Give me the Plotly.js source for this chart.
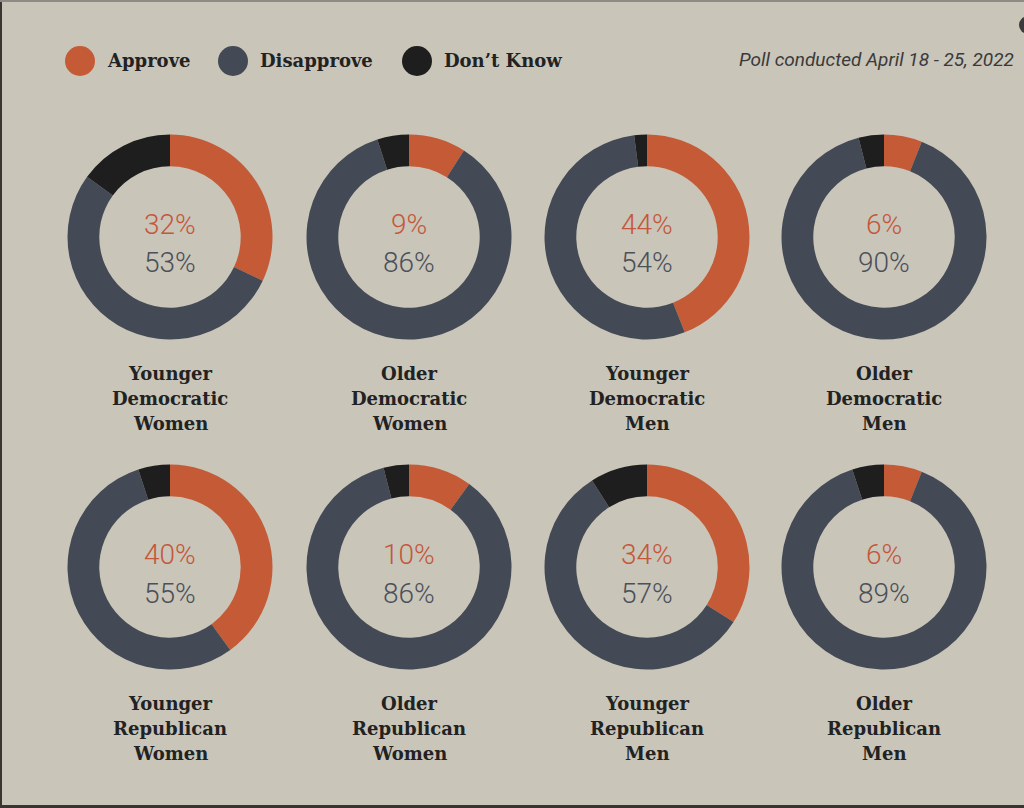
<!DOCTYPE html>
<html>
<head>
<meta charset="utf-8">
<script src="https://cdn.plot.ly/plotly-3.0.1.min.js"></script>
<style>html,body{margin:0;padding:0;background:#c9c5b9;}#chart{width:1024px;height:808px;}</style>
</head>
<body>
<div id="chart"></div>
<script>
// ---- data ----
const groups = [
  "Younger<br>Democratic<br>Women", "Older<br>Democratic<br>Women",
  "Younger<br>Democratic<br>Men", "Older<br>Democratic<br>Men",
  "Younger<br>Republican<br>Women", "Older<br>Republican<br>Women",
  "Younger<br>Republican<br>Men", "Older<br>Republican<br>Men"
];
const responses = ["Approve", "Disapprove", "Don’t Know"];
const approve    = [32, 9, 44, 6, 40, 10, 34, 6];
const disapprove = [53, 86, 54, 90, 55, 86, 57, 89];
const dontKnow   = [15, 5, 2, 4, 5, 4, 9, 5];
const subtitle = "Poll conducted April 18 - 25, 2022";

// ---- styling / layout ----
const W = 1024, H = 808;
const BG = "#c9c5b9";
const COLORS = ["#c45a36", "#434a55", "#1e1e1e"];
const TXT_APPROVE = "#c4573a", TXT_DIS = "#4b5059";
const colX = [170, 409, 647, 884];
const rowY = [237, 567];
const R = 102.5;
const px = x => x / W;
const py = y => 1 - y / H;

const traces = [];
const annotations = [];
const shapes = [];

groups.forEach((g, i) => {
  const cx = colX[i % 4], cy = rowY[Math.floor(i / 4)];
  traces.push({
    type: "pie",
    values: [approve[i], disapprove[i], dontKnow[i]],
    labels: responses,
    marker: {colors: COLORS, line: {width: 0}},
    hole: 0.69,
    sort: false,
    direction: "clockwise",
    rotation: 0,
    textinfo: "none",
    hoverinfo: "label+percent",
    showlegend: false,
    domain: {x: [px(cx - R), px(cx + R)], y: [py(cy + R), py(cy - R)]}
  });
  annotations.push({
    x: px(cx), y: py(cy - 13), xref: "paper", yref: "paper",
    text: approve[i] + "%", showarrow: false, xanchor: "center", yanchor: "middle",
    font: {family: "Roboto, sans-serif", size: 28, weight: 300, color: TXT_APPROVE}
  });
  annotations.push({
    x: px(cx), y: py(cy + 26), xref: "paper", yref: "paper",
    text: disapprove[i] + "%", showarrow: false, xanchor: "center", yanchor: "middle",
    font: {family: "Roboto, sans-serif", size: 28, weight: 300, color: TXT_DIS}
  });
  g.split("<br>").forEach((line, k) => {
    annotations.push({
      x: px(cx), y: py(cy + 136 + k * 25), xref: "paper", yref: "paper",
      text: "<b>" + line + "</b>", showarrow: false, xanchor: "center", yanchor: "middle",
      font: {family: "DejaVu Serif, serif", size: 18, color: "#222222"}
    });
  });
});

// legend (circles + labels)
const legX = [80, 233, 417];
responses.forEach((r, k) => {
  shapes.push({
    type: "circle", xref: "paper", yref: "paper",
    x0: px(legX[k] - 15), x1: px(legX[k] + 15), y0: py(61 + 15), y1: py(61 - 15),
    fillcolor: COLORS[k], line: {width: 0}
  });
  annotations.push({
    x: px(legX[k] + 25), y: py(61), xref: "paper", yref: "paper",
    text: "<b>" + r + "</b>", showarrow: false, xanchor: "left", yanchor: "middle",
    font: {family: "DejaVu Serif, serif", size: 18, color: "#222222"}
  });
});

annotations.push({
  x: px(1016), y: py(60), xref: "paper", yref: "paper",
  text: "<i>" + subtitle + "</i>", showarrow: false, xanchor: "right", yanchor: "middle",
  font: {family: "Roboto, sans-serif", size: 19, color: "#3a3a3a"}
});

// frame edges
shapes.push({type: "rect", xref: "paper", yref: "paper", x0: 0, x1: px(2), y0: 0, y1: 1, fillcolor: "#3b3430", line: {width: 0}});
shapes.push({type: "rect", xref: "paper", yref: "paper", x0: 0, x1: 1, y0: py(2), y1: 1, fillcolor: "#8f8a84", line: {width: 0}});
shapes.push({type: "rect", xref: "paper", yref: "paper", x0: 0, x1: 1, y0: 0, y1: py(805), fillcolor: "#3b3430", line: {width: 0}});
shapes.push({type: "circle", xref: "paper", yref: "paper", x0: px(1019), x1: px(1037), y0: py(34), y1: py(16), fillcolor: "#3a3a3a", line: {width: 0}});

Plotly.newPlot("chart", traces, {
  width: W, height: H,
  margin: {l: 0, r: 0, t: 0, b: 0},
  paper_bgcolor: BG, plot_bgcolor: BG,
  annotations: annotations,
  shapes: shapes
}, {displayModeBar: false, staticPlot: true});
</script>
</body>
</html>
